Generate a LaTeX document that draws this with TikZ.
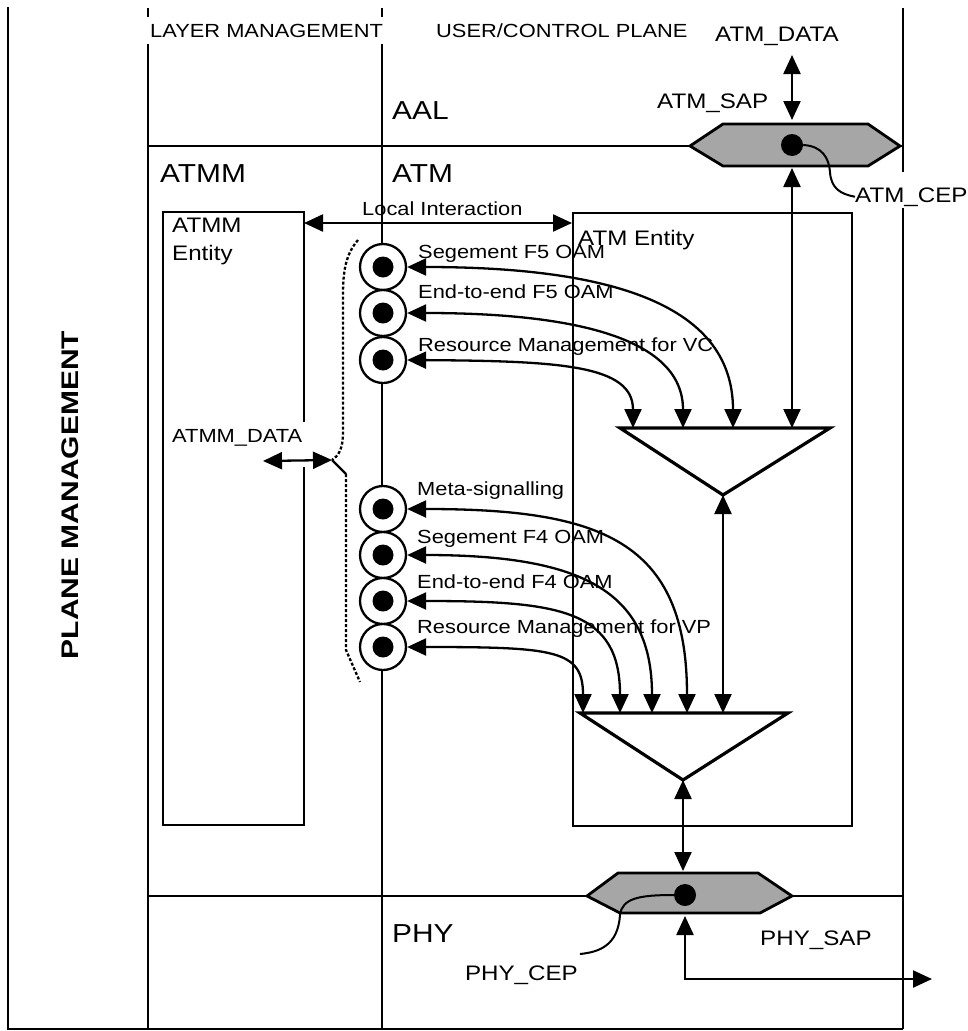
\documentclass[tikz,border=0pt]{standalone}
\usepackage{fontspec}
\setmainfont{Liberation Sans}[FakeStretch=1.15]
\newfontfamily\pmfont{Liberation Sans}[FakeStretch=1.25]
\usetikzlibrary{arrows.meta}
\begin{document}
\begin{tikzpicture}[x=1pt,y=-1pt,
  frame/.style={line width=2.3pt},
  conn/.style={line width=2.3pt,
    {Triangle[length=19pt,width=17pt]}-{Triangle[length=19pt,width=17pt]}},
  wire/.style={line width=2pt},
  tri/.style={line width=3.2pt, line join=miter},
  hexa/.style={line width=2.8pt, fill=black!35},
  brace/.style={line width=2.3pt, dash pattern=on 3pt off 2pt},
  ring/.style={circle, draw, line width=2.3pt, fill=white, minimum size=46pt, inner sep=0pt},
  dotc/.style={circle, fill=black, minimum size=21pt, inner sep=0pt},
  cep/.style={circle, fill=black, minimum size=22pt, inner sep=0pt},
  lbl/.style={inner sep=0pt, anchor=base west, font=\fontsize{19}{22}\selectfont},
  mid/.style={inner sep=0pt, anchor=base west, font=\fontsize{21}{24}\selectfont},
  big/.style={inner sep=0pt, anchor=base west, font=\fontsize{26}{30}\selectfont}]
\useasboundingbox (0,0) rectangle (968,1031);

% ---- frame lines ----
\draw[frame] (8,7) -- (8,1029) -- (903,1029);
\draw[frame] (903,8) -- (903,172);
\draw[frame] (903,208) -- (903,1029);
\draw[frame] (148,8) -- (148,17);
\draw[frame] (148,44) -- (148,1029);
\draw[frame] (382,8) -- (382,17);
\draw[frame] (382,44) -- (382,1029);

% ---- SAP hexagons ----
\draw[hexa] (690,146) coordinate (h1w) -- (723,124) -- (868,124) -- (900,146) coordinate (h1e)
  -- (868,166) -- (723,166) -- cycle;
\draw[hexa] (587,896) coordinate (h2w) -- (618,873) -- (758,873) -- (792,896) coordinate (h2e)
  -- (760,913) -- (620,913) -- cycle;
\draw[frame] (148,146) -- (h1w);
\draw[frame] (h1e) -- (903,146);
\draw[frame] (148,896) -- (h2w);
\draw[frame] (h2e) -- (903,896);

% ---- entity boxes ----
\draw[frame] (304,422) -- (304,212) -- (163,212) -- (163,825) -- (304,825) -- (304,467);
\coordinate (atmmR) at (304,223);
\node[draw, line width=2.3pt, anchor=north west, minimum width=279pt, minimum height=613pt,
  inner sep=0pt] (atmbox) at (572,212) {};

% ---- multiplexer triangles ----
\coordinate (T1L) at (620,428); \coordinate (T1R) at (830,428); \coordinate (T1B) at (723,495);
\coordinate (T2L) at (580,713); \coordinate (T2R) at (788,713); \coordinate (T2B) at (683,780);
\draw[tri] (T1L) -- (T1R) -- (T1B) -- cycle;
\draw[tri] (T2L) -- (T2R) -- (T2B) -- cycle;

% ---- connection end points (rings) ----
\node[ring] (c1) at (383,267) {};
\node[ring] (c2) at (383,313) {};
\node[ring] (c3) at (383,360) {};
\node[ring] (c4) at (383,509) {};
\node[ring] (c5) at (383,555) {};
\node[ring] (c6) at (383,601) {};
\node[ring] (c7) at (383,647) {};
\node[dotc] (d1) at (c1) {};
\node[dotc] (d2) at (c2) {};
\node[dotc] (d3) at (c3) {};
\node[dotc] (d4) at (c4) {};
\node[dotc] (d5) at (c5) {};
\node[dotc] (d6) at (c6) {};
\node[dotc] (d7) at (c7) {};

% ---- CEP dots ----
\node[cep] (acep) at (792,145) {};
\node[cep] (pcep) at (685,895) {};

% ---- arrow targets ----
\coordinate (a1) at (633,428); \coordinate (a2) at (683,428);
\coordinate (a3) at (733,428); \coordinate (a4) at (792,428);
\coordinate (b1) at (583,713); \coordinate (b2) at (620,713); \coordinate (b3) at (652,713);
\coordinate (b4) at (687,713); \coordinate (b5) at (723,713);
\coordinate (h1n) at (792,120); \coordinate (h1s) at (792,168);
\coordinate (adata) at (792,55);
\coordinate (h2n) at (683,871); \coordinate (h2s) at (685,916);
\coordinate (phyOut) at (932,979);
\coordinate (bt) at (332,460);
\coordinate (admL) at (263,461);

% ---- connectors ----
\draw[conn] (c1.east) .. controls (600,267) and (733,300) .. (a3);
\draw[conn] (c2.east) .. controls (580,313) and (683,340) .. (a2);
\draw[conn] (c3.east) .. controls (560,361) and (633,365) .. (a1);
\draw[conn] (c4.east) .. controls (600,509) and (687,540) .. (b4);
\draw[conn] (c5.east) .. controls (580,555) and (652,590) .. (b3);
\draw[conn] (c6.east) .. controls (560,601) and (620,610) .. (b2);
\draw[conn] (c7.east) .. controls (555,647) and (583,650) .. (b1);
\draw[conn] (h1s) -- (a4);
\draw[conn] (adata) -- (h1n);
\draw[conn] (T1B) -- (b5);
\draw[conn] (T2B) -- (h2n);
\draw[conn] (h2s) |- (phyOut);
\draw[conn] (atmmR) -- (atmmR -| atmbox.west);
\draw[conn] (admL) -- (bt);

% ---- dashed brace ----
\draw[brace] (358,240) .. controls (346,254) and (343,270) .. (343,295) -- (343,432)
  .. controls (343,450) and (338,456) .. (bt);
\draw[line width=2.3pt] (bt) -- (346,474);
\draw[brace] (346,474) -- (346,650) -- (360,682);

% ---- texts ----
\node[lbl] (lm) at (150,37) {LAYER MANAGEMENT};
\node[lbl] (ucp) at (436,37) {USER/CONTROL PLANE};
\node[mid] (atmdata) at (715,41) {ATM\_DATA};
\node[mid] (atmsap) at (657,108) {ATM\_SAP};
\node[mid] (atmcep) at (855,202) {ATM\_CEP};
\node[big] (aal) at (392,119) {AAL};
\node[big] (atm) at (392,182) {ATM};
\node[big] (atmm) at (160,182) {ATMM};
\node[big] (phy) at (392,942) {PHY};
\node[mid] (e1) at (172,232) {ATMM};
\node[mid] (e2) at (172,260) {Entity};
\node[mid] (ae) at (578,245) {ATM Entity};
\node[lbl] (li) at (362,215) {Local Interaction};
\node[lbl] (admd) at (172,442) {ATMM\_DATA};
\node[mid] (physap) at (760,945) {PHY\_SAP};
\node[mid, anchor=base east] (phycep) at (578,980) {PHY\_CEP};
\node[rotate=90, inner sep=0pt, font=\pmfont\bfseries\fontsize{24}{28}\selectfont] (pm) at (70,495)
  {PLANE MANAGEMENT};

\node[lbl] (l1) at (418,258) {Segement F5 OAM};
\node[lbl] (l2) at (418,298) {End-to-end F5 OAM};
\node[lbl] (l3) at (418,351) {Resource Management for VC};
\node[lbl] (l4) at (417,495) {Meta-signalling};
\node[lbl] (l5) at (417,543) {Segement F4 OAM};
\node[lbl] (l6) at (417,588) {End-to-end F4 OAM};
\node[lbl] (l7) at (417,633) {Resource Management for VP};

% ---- CEP leader lines ----
\draw[wire] (acep.east) .. controls (822,146) and (829,158) .. (830,172)
  .. controls (831,188) and (840,194) .. (atmcep.west);
\coordinate (pcepEnd) at (580,954);
\draw[wire] (pcep.west) .. controls (640,895) and (622,898) .. (620,915)
  .. controls (618,945) and (600,952) .. (pcepEnd);
\end{tikzpicture}
\end{document}
